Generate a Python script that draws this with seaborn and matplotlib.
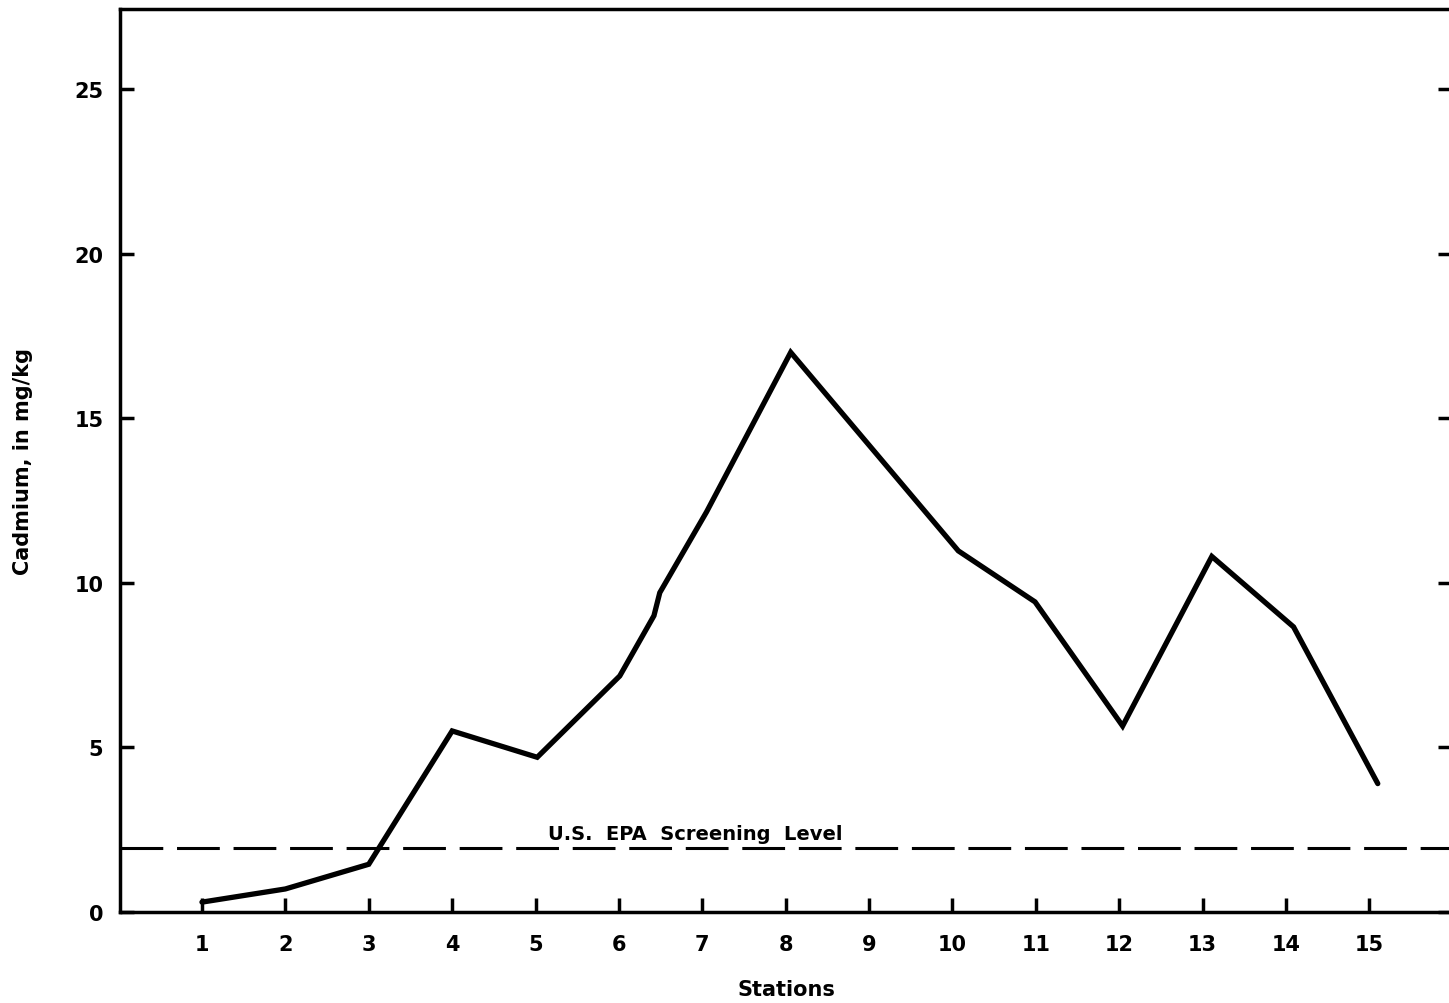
import matplotlib
matplotlib.use("Agg")
import matplotlib.pyplot as plt
import seaborn as sns
import pandas as pd

# Cadmium concentration in bed sediment along the sampled reach
station_pos = [1.0, 2.0, 3.0, 4.0, 5.02, 6.01, 6.42, 6.49, 7.05, 8.06,
               10.07, 10.99, 12.04, 13.11, 14.09, 15.1]
cadmium = [0.3, 0.7, 1.45, 5.5, 4.7, 7.17, 9.0, 9.7, 12.15, 17.0,
           10.97, 9.42, 5.65, 10.8, 8.66, 3.9]

station_ticks = list(range(1, 16))
station_labels = [str(s) for s in station_ticks]
cd_ticks = [0, 5, 10, 15, 20, 25]
screening_level = 1.95

df = pd.DataFrame({"station": station_pos, "cadmium": cadmium})

sns.set_theme(style="white")
plt.rcParams["font.family"] = ["DejaVu Sans"]
plt.rcParams["font.weight"] = "bold"
plt.rcParams["text.color"] = "black"
plt.rcParams["axes.labelcolor"] = "black"

W, H = 1449, 1004
fig = plt.figure(figsize=(W / 100, H / 100), dpi=100)
left, right, bottom, top = 120, 1452, 913, 10
ax = fig.add_axes([left / W, 1 - bottom / H, (right - left) / W, (bottom - top) / H])

sns.lineplot(data=df, x="station", y="cadmium", sort=False, estimator=None,
             color="black", linewidth=3.8, ax=ax,
             solid_capstyle="round", solid_joinstyle="miter")

ax.axhline(screening_level, color="black", linewidth=2.2,
           dashes=(14, 4.5), zorder=1)
ax.text(6.91, screening_level + 0.15, "U.S.  EPA  Screening  Level",
        ha="center", va="bottom", fontsize=14, fontweight="bold", color="black")

ax.set_xlim(0.017, 15.99)
ax.set_ylim(0, 27.43)
ax.set_xticks(station_ticks)
ax.set_xticklabels(station_labels)
ax.set_yticks(cd_ticks)
ax.set_yticklabels([str(t) for t in cd_ticks])

ax.tick_params(axis="both", direction="in", length=10, width=2.5,
               labelsize=15, colors="black")
ax.tick_params(axis="x", pad=16, bottom=True)
ax.tick_params(axis="y", pad=12, right=True, left=True)
for lab in ax.get_xticklabels() + ax.get_yticklabels():
    lab.set_fontweight("bold")

for side in ["left", "bottom", "top", "right"]:
    ax.spines[side].set_color("black")
    ax.spines[side].set_linewidth(2.5)

ax.set_xlabel("Stations", fontsize=15, fontweight="bold", labelpad=18, color="black")
ax.set_ylabel("Cadmium, in mg/kg", fontsize=15, fontweight="bold", labelpad=30,
              color="black")

fig.savefig("out.png", dpi=100, facecolor="white")
